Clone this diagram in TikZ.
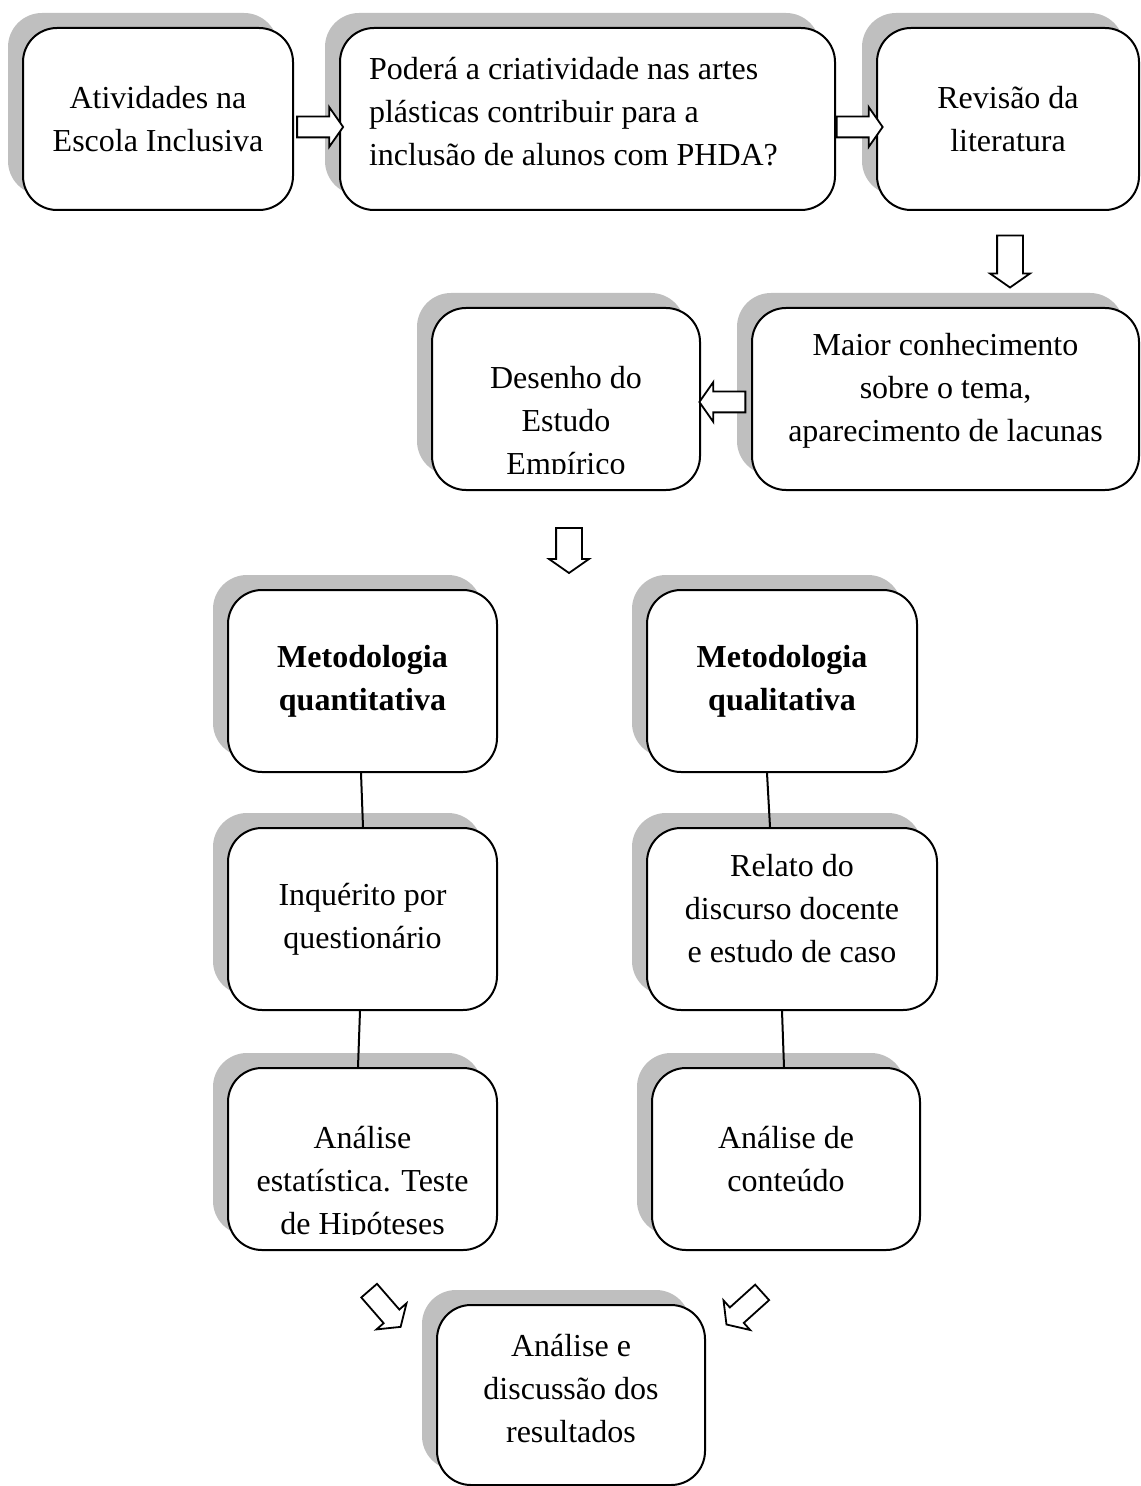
\documentclass[tikz,border=0pt]{standalone}
\usepackage{fontspec}
\setmainfont{Liberation Serif}
\usepackage{tikz}
\usetikzlibrary{shapes,shadows,calc,positioning}
\definecolor{sombra}{RGB}{191,191,191}
\tikzstyle{caixa} = [rectangle, rounded corners=17pt, draw=black, line width=1pt, fill=white, minimum height=91pt, align=center, font=\fontsize{16}{21.5}\selectfont, drop shadow={shadow xshift=-7.5pt, shadow yshift=7.5pt, fill=sombra, opacity=1}]
\tikzstyle{texto} = [align=center, font=\fontsize{16}{21.5}\selectfont]
\tikzstyle{seta} = [single arrow, draw=black, line width=0.9pt, fill=white, inner xsep=0pt, inner ysep=4.75pt, minimum height=23pt, single arrow head extend=4.75pt, single arrow tip angle=110]
\tikzstyle{setav} = [seta, inner ysep=6pt, single arrow head extend=3.5pt]
\tikzstyle{ligacao} = [line width=1pt]

\begin{document}
\begin{tikzpicture}[x=0.5pt, y=-0.5pt]
\useasboundingbox (0,0) rectangle (1140,1486);
\clip (0,0) rectangle (1140,1486);

% Top row
\node (atv) [caixa, minimum width=135pt] at (158,119) {Atividades na\\Escola Inclusiva};
\node (perg) [caixa, minimum width=247.5pt] at (587.5,119) {};
\node[texto, align=left] at ([xshift=-7pt, yshift=3.75pt]perg.center) {Poderá a criatividade nas artes\\plásticas contribuir para a\\inclusão de alunos com PHDA?};
\node (rev) [caixa, minimum width=131pt] at (1008,119) {Revisão da\\literatura};

% Second row
\node (maior) [caixa, minimum width=193.5pt] at (945.5,399) {};
\node[texto] at ([yshift=4pt]maior.center) {Maior conhecimento\\sobre o tema,\\aparecimento de lacunas};
\node (desenho) [caixa, minimum width=134pt] at (566,399) {};
\begin{scope}
\clip ([yshift=9pt]desenho.south west) rectangle (desenho.north east);
\node[texto] at ([yshift=-12.5pt]desenho.center) {Desenho do\\Estudo\\Empírico};
\end{scope}

% Methodologies
\node (quant) [caixa, minimum width=134.5pt, font=\fontsize{16}{21.5}\selectfont\bfseries] at (362.5,681) {Metodologia\\quantitativa};
\node (qual) [caixa, minimum width=135pt, font=\fontsize{16}{21.5}\selectfont\bfseries] at (782,681) {Metodologia\\qualitativa};
\node (inq) [caixa, minimum width=134.5pt] at (362.5,919) {Inquérito por\\questionário};
\node (relato) [caixa, minimum width=145pt] at (792,919) {};
\node[texto] at ([yshift=5.25pt]relato.center) {Relato do\\discurso docente\\e estudo de caso};
\node (estat) [caixa, minimum width=134.5pt] at (362.5,1159) {};
\begin{scope}
\clip ([yshift=8.5pt]estat.south west) rectangle (estat.north east);
\node[texto] at ([yshift=-12.5pt]estat.center) {Análise\\estatística. Teste\\de Hipóteses};
\end{scope}
\node (conteudo) [caixa, minimum width=134pt] at (786,1159) {Análise de\\conteúdo};
\node (disc) [caixa, minimum width=134pt, minimum height=90pt] at (571,1395) {};
\node[texto] at ([yshift=3.25pt]disc.center) {Análise e\\discussão dos\\resultados};

% Block arrows
\node (s1) [seta] at ($(atv.east)!0.5!(perg.west)+(0,8)$) {};
\node (s2) [seta] at ($(perg.east)!0.5!(rev.west)+(0,8)$) {};
\node (s3) [setav, rotate=-90, minimum height=26pt] at ($(rev.south)+(2,46)$) {};
\node (s4) [seta, rotate=180] at ($(maior.west)!0.5!(desenho.east)+(0,3)$) {};
\node (s5) [setav, rotate=-90, minimum height=22.5pt] at ($(desenho.south)+(3,55)$) {};
\node (s6) [seta, rotate=-49, minimum height=24pt] at ($(estat.south)+(20,55)$) {};
\node (s7) [seta, rotate=-138, minimum height=24pt] at ($(conteudo.south)+(-39,55)$) {};

% Links
\draw[ligacao] ([xshift=-0.75pt]quant.south) -- ([xshift=0.25pt]inq.north);
\draw[ligacao] ([xshift=-1.25pt]inq.south) -- ([xshift=-2.25pt]estat.north);
\draw[ligacao] ([xshift=-7.5pt]qual.south) -- ([xshift=-11pt]relato.north);
\draw[ligacao] ([xshift=-5pt]relato.south) -- ([xshift=-1pt]conteudo.north);
\end{tikzpicture}
\end{document}
